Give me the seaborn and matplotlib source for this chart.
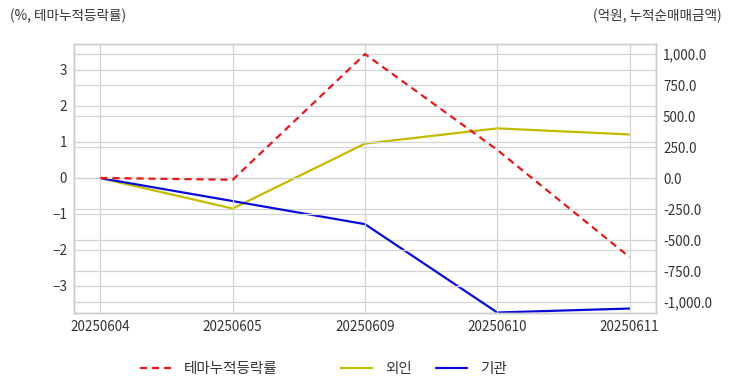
import matplotlib
matplotlib.use("Agg")
import matplotlib.pyplot as plt
import matplotlib.ticker as mticker
from matplotlib.lines import Line2D
import seaborn as sns
import pandas as pd

dates = ["20250604", "20250605", "20250609", "20250610", "20250611"]
theme_rate = [0.0, -0.05, 3.44, 0.78, -2.2]
foreign = [0.0, -245.0, 278.0, 401.0, 352.0]
institution = [0.0, -185.0, -371.0, -1083.0, -1051.0]

sns.set_theme(style="whitegrid")
plt.rcParams['font.family'] = ['Noto Sans CJK KR', 'DejaVu Sans']

df = pd.DataFrame({"date": dates, "theme": theme_rate,
                   "foreign": foreign, "inst": institution})
df["pos"] = range(len(dates))

fig = plt.figure(figsize=(7.32, 3.92), dpi=100)
ax = fig.add_axes([74/732, 1-313/392, (656-74)/732, (313-44)/392])
ax2 = ax.twinx()

red = "#e31a1c"
yel = "#c2bb00"
blu = "#0a0ad8"
dash = (0, (3.2, 2.2))

sns.lineplot(data=df, x="pos", y="theme", ax=ax, color=red, linewidth=1.6,
             linestyle=dash, legend=False)
sns.lineplot(data=df, x="pos", y="foreign", ax=ax2, color=yel, linewidth=1.6, legend=False)
sns.lineplot(data=df, x="pos", y="inst", ax=ax2, color=blu, linewidth=1.6, legend=False)

ax.set_xlim(-0.2, 4.2)
ax.set_ylim(-3.75, 3.72)
ax2.set_ylim(-1087, 1081)
ax.set_xticks(range(len(dates)))
ax.set_xticklabels(dates)
ax.set_yticks([-3, -2, -1, 0, 1, 2, 3])
ax2.set_yticks([-1000, -750, -500, -250, 0, 250, 500, 750, 1000])
ax2.yaxis.set_major_formatter(mticker.FuncFormatter(lambda v, p: f"{v:,.1f}"))

for a in (ax, ax2):
    a.set_xlabel("")
    a.set_ylabel("")
    a.tick_params(length=0, labelsize=9.7, colors="#333333", pad=5)
    a.grid(True, color="#d4d4d4", linewidth=0.9)
    for s in a.spines.values():
        s.set_color("#cccccc")
        s.set_linewidth(1.0)
ax2.grid(axis="x", visible=False)
ax.set_zorder(ax2.get_zorder() + 1)
ax.patch.set_visible(False)
ax2.patch.set_visible(True)
ax2.patch.set_facecolor("white")

fig.text(10/732, 1-16/392, "(%, 테마누적등락률)", fontsize=9.8, color="#333333",
         ha="left", va="center")
fig.text(722/732, 1-16/392, "(억원, 누적순매매금액)", fontsize=9.8, color="#333333",
         ha="right", va="center")

handles = [Line2D([], [], color=red, linewidth=1.6, linestyle=dash),
           Line2D([], [], color=yel, linewidth=1.6),
           Line2D([], [], color=blu, linewidth=1.6)]
labels = ["테마누적등락률", "외인", "기관"]
xs = [140, 341, 436]
for h, l, x in zip(handles, labels, xs):
    fig.legend([h], [l], loc="center left", bbox_to_anchor=(x/732, 1-369/392),
               frameon=False, fontsize=10.5, handlelength=2.1, handletextpad=0.9,
               labelcolor="#333333", borderpad=0, borderaxespad=0)

fig.savefig("out.png", dpi=100, facecolor="white")
